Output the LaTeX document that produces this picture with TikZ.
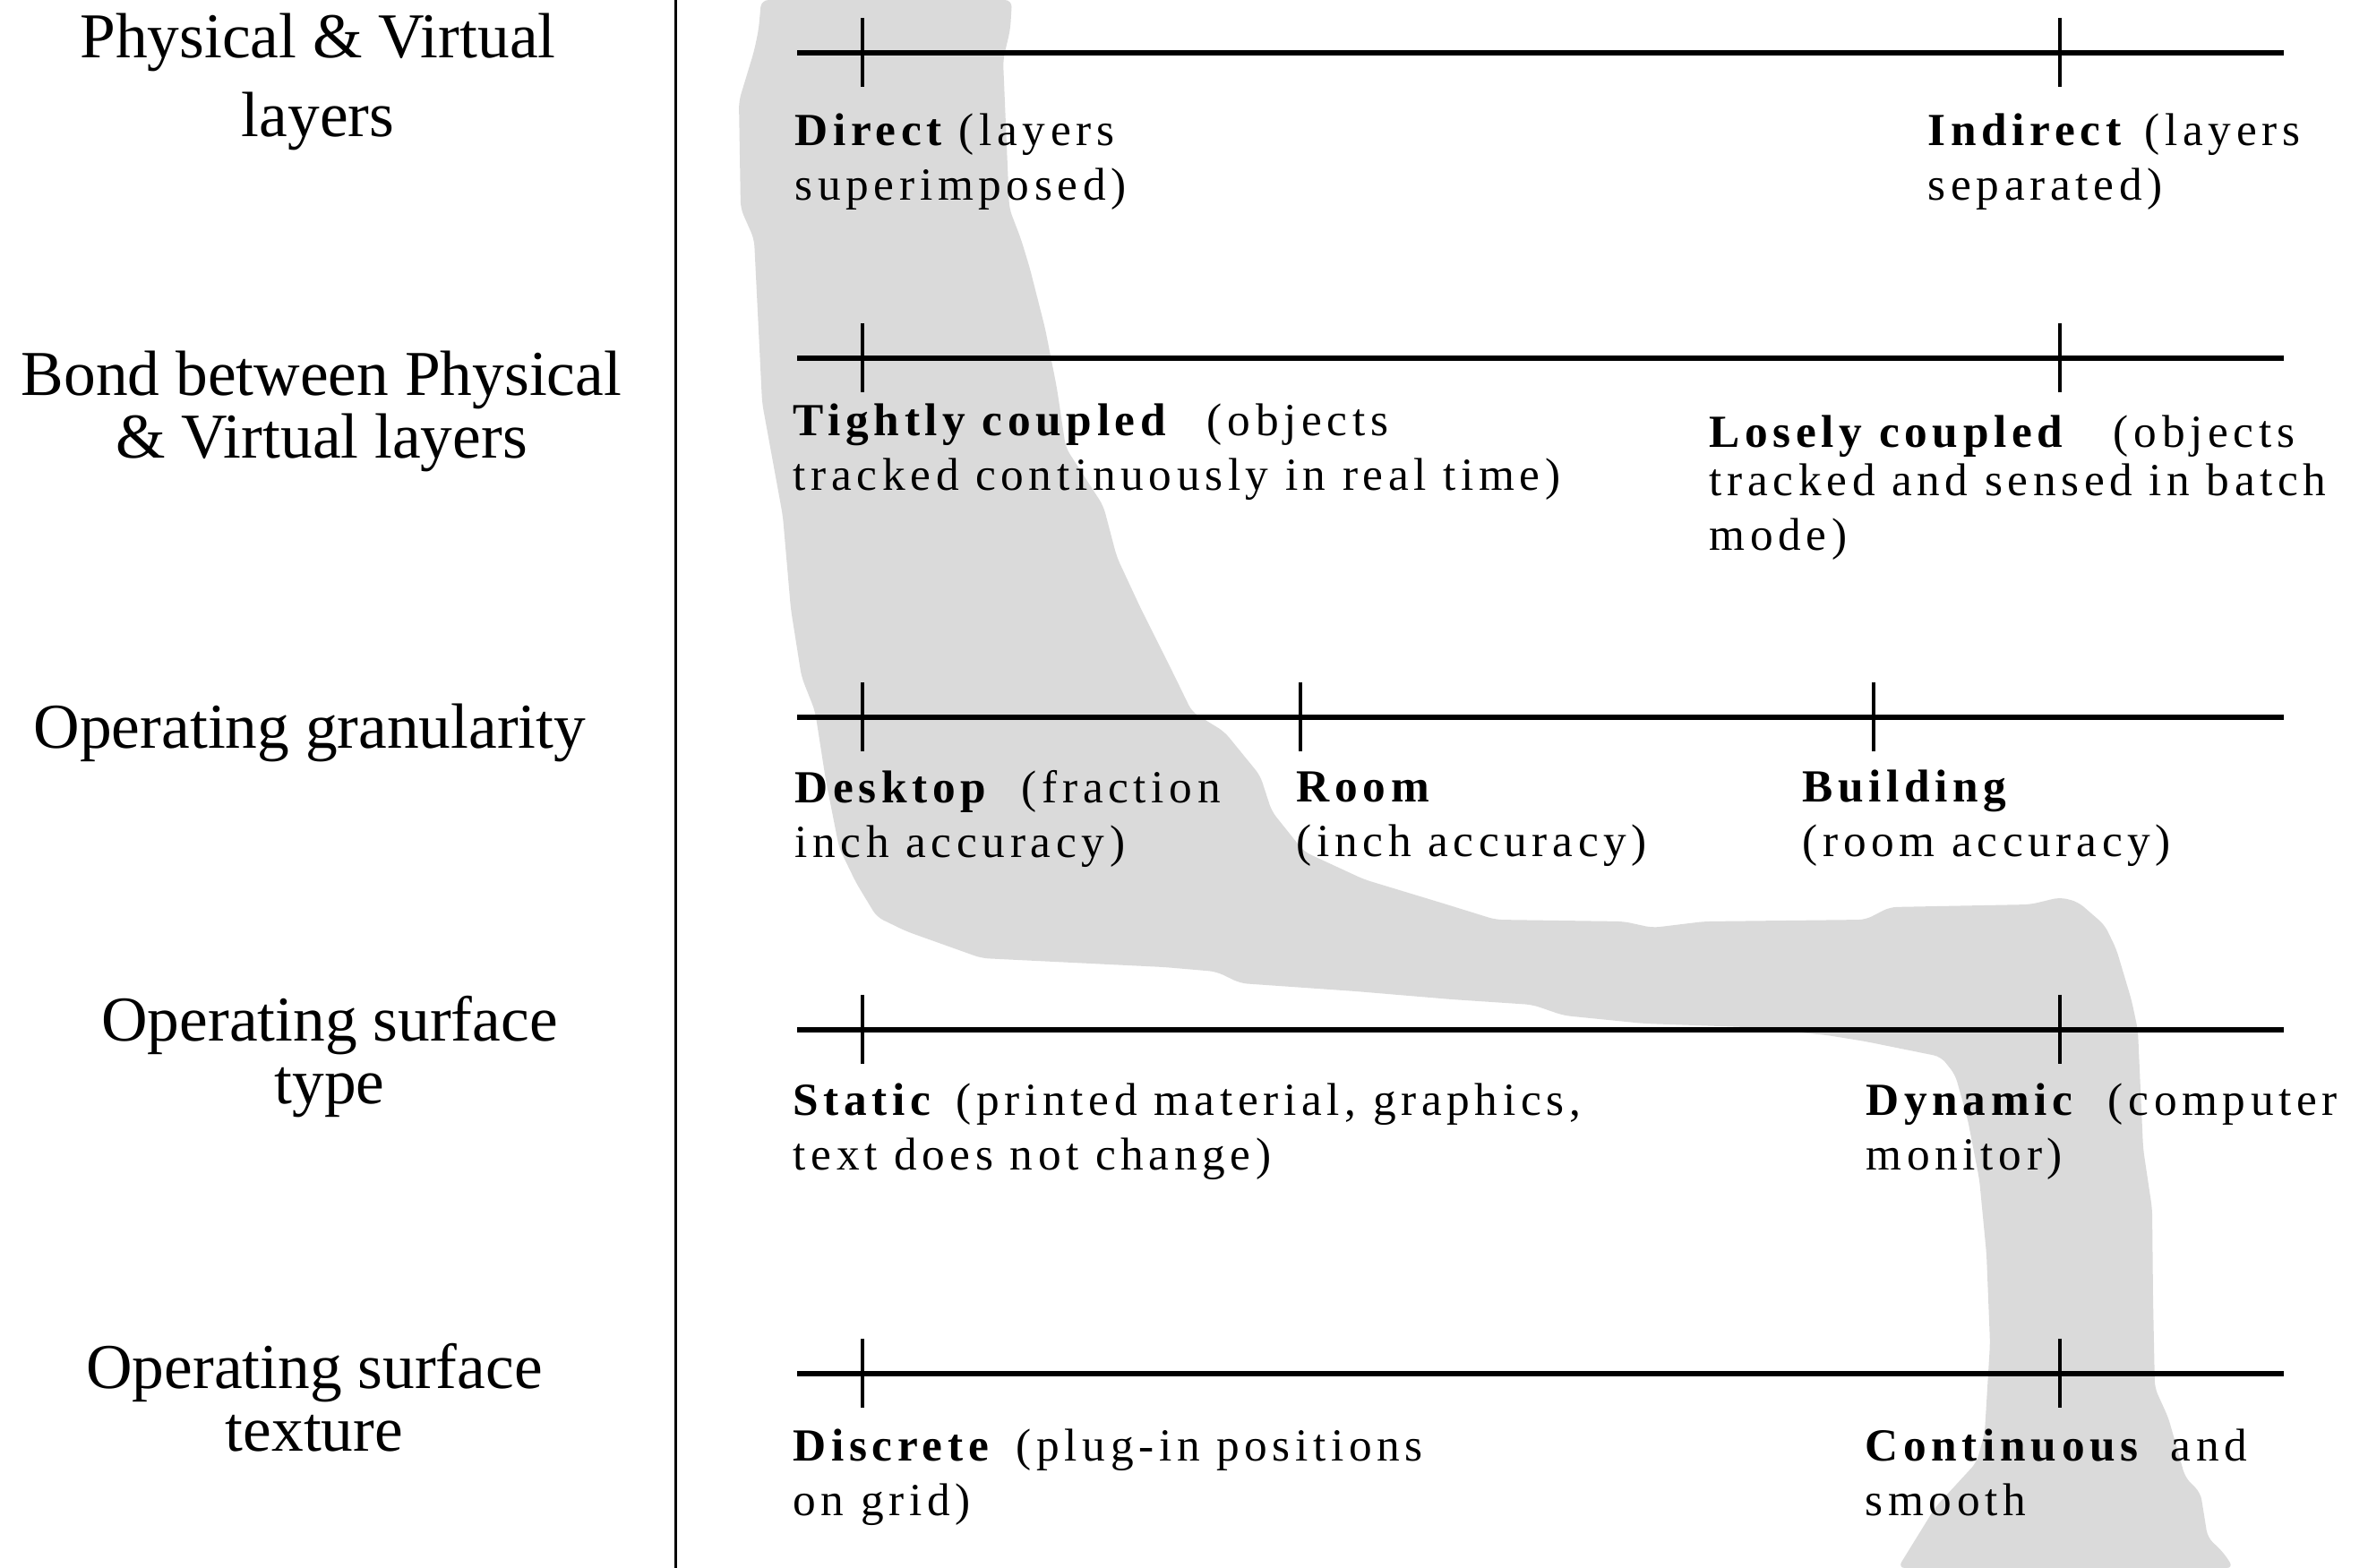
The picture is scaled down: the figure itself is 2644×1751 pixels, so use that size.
\documentclass[tikz,border=0pt]{standalone}
\usepackage{fontspec}
\setmainfont{Liberation Serif}
\newfontfamily\polefont[LetterSpace=11]{Liberation Serif}
\definecolor{bandgray}{RGB}{218,218,218}
\tikzset{
AXIS/.style ={draw=black,line cap=butt,line width=1.9pt},
TICK/.style ={draw=black,line cap=butt,line width=0.95pt},
DIVIDER/.style ={draw=black,line width=0.85pt},
BAND/.style={draw=none,fill=bandgray,rounded corners=0.08cm},
DIMTEXT/.style={font=\fontsize{20.3}{19.8}\selectfont,align=center,anchor=base,inner sep=0pt},
POLETEXT/.style={font=\polefont\fontsize{14.6}{17.3}\selectfont,align=left,anchor=base west,inner sep=0pt},
}

\begin{document}
\begin{tikzpicture}[x=0.01cm,y=-0.01cm]
	\useasboundingbox (0,0) rectangle (2644,1751);
	%Grey band
	\path[BAND] (850,0) -- (847,33) -- (842,57) -- (825,113) -- (827,233) -- (842,267)
		-- (851,450) -- (874,576) -- (883,680) -- (895,756) -- (910,794) -- (922,871)
		-- (937,947) -- (956,986) -- (979,1024) -- (1012,1040) -- (1096,1070) -- (1300,1080)
		-- (1358,1085) -- (1385,1098) -- (1514,1107) -- (1621,1116) -- (1711,1122) -- (1746,1134)
		-- (1836,1143) -- (1950,1147) -- (2040,1156) -- (2083,1163) -- (2167,1180) -- (2183,1200)
		-- (2197,1250) -- (2210,1317) -- (2218,1400) -- (2222,1500) -- (2216,1600) -- (2207,1633)
		-- (2161,1683) -- (2119,1751) -- (2494,1751) -- (2482,1733) -- (2465,1717) -- (2457,1667)
		-- (2440,1650) -- (2421,1583) -- (2406,1550) -- (2404,1450) -- (2403,1350) -- (2393,1283)
		-- (2387,1150) -- (2380,1117) -- (2363,1060) -- (2350,1033) -- (2320,1007) -- (2300,1002)
		-- (2267,1010) -- (2110,1013) -- (2083,1027) -- (1903,1029) -- (1845,1036) -- (1813,1029)
		-- (1670,1027) -- (1612,1009) -- (1523,982) -- (1456,951) -- (1420,906) -- (1407,866)
		-- (1367,817) -- (1331,795) -- (1312,756) -- (1274,680) -- (1247,622) -- (1232,565)
		-- (1190,500) -- (1180,433) -- (1167,367) -- (1150,300) -- (1140,267) -- (1127,233)
		-- (1120,67) -- (1128,33) -- (1130,0) -- cycle;
	%Divider
	\coordinate (div-t) at (754,0);
	\coordinate (div-b) at (754,1751);
	\path[DIVIDER] (div-t) -- (div-b);
	%Scales
	\foreach \ax/\y in {layers/59,bond/400,gran/801,type/1150,texture/1534}{
		\coordinate (\ax-l) at (890,\y);
		\coordinate (\ax-r) at (2550,\y);
		\path[AXIS] (\ax-l) -- (\ax-r);
	}
	\foreach \x/\y in {963/59,2300/59,963/400,2300/400,963/801,1452/801,2092/801,
		963/1150,2300/1150,963/1534,2300/1534}
		\path[TICK] ([yshift=0.39cm]\x,\y) -- ([yshift=-0.38cm]\x,\y);
	%Dimensions (anchored on the last line)
	\node[DIMTEXT] (dimlayers) at (355,152) {Physical \& Virtual\\[5pt]layers};
	\node[DIMTEXT] (dimbond) at (359,511) {Bond between Physical\\\& Virtual layers};
	\node[DIMTEXT] (dimgran) at (346,835) {Operating granularity};
	\node[DIMTEXT] (dimtype) at (368,1232) {Operating surface\\type};
	\node[DIMTEXT] (dimtexture) at (351,1620) {Operating surface\\texture};
	%Poles (anchored on the last line)
	\node[POLETEXT] (direct) at (887,223) {\makebox[1.83cm][l]{\bfseries Direct}(layers\\superimposed)};
	\node[POLETEXT] (indirect) at (2152,223) {\makebox[2.42cm][l]{\bfseries Indirect}(layers\\separated)};
	\node[POLETEXT] (tight) at (885,547) {\makebox[4.62cm][l]{\bfseries Tightly coupled}(objects\\tracked continuously in real time)};
	\node[POLETEXT] (loose) at (1908,614) {\makebox[4.51cm][l]{\bfseries Losely coupled}(objects\\[-2pt]tracked and sensed in batch\\mode)};
	\node[POLETEXT] (desktop) at (887,957) {\makebox[2.53cm][l]{\bfseries Desktop}(fraction\\inch accuracy)};
	\node[POLETEXT] (room) at (1447,956) {\bfseries Room\\\mdseries(inch accuracy)};
	\node[POLETEXT] (building) at (2012,956) {\bfseries Building\\\mdseries(room accuracy)};
	\node[POLETEXT] (static) at (885,1306) {\makebox[1.82cm][l]{\bfseries Static}(printed material, graphics,\\text does not change)};
	\node[POLETEXT] (dynamic) at (2083,1306) {\makebox[2.70cm][l]{\bfseries Dynamic}(computer\\monitor)};
	\node[POLETEXT] (discrete) at (885,1692) {\makebox[2.49cm][l]{\bfseries Discrete}(plug-in positions\\on grid)};
	\node[POLETEXT] (continuous) at (2082,1692) {\makebox[3.41cm][l]{\bfseries Continuous}and\\smooth};
\end{tikzpicture}
\end{document}
